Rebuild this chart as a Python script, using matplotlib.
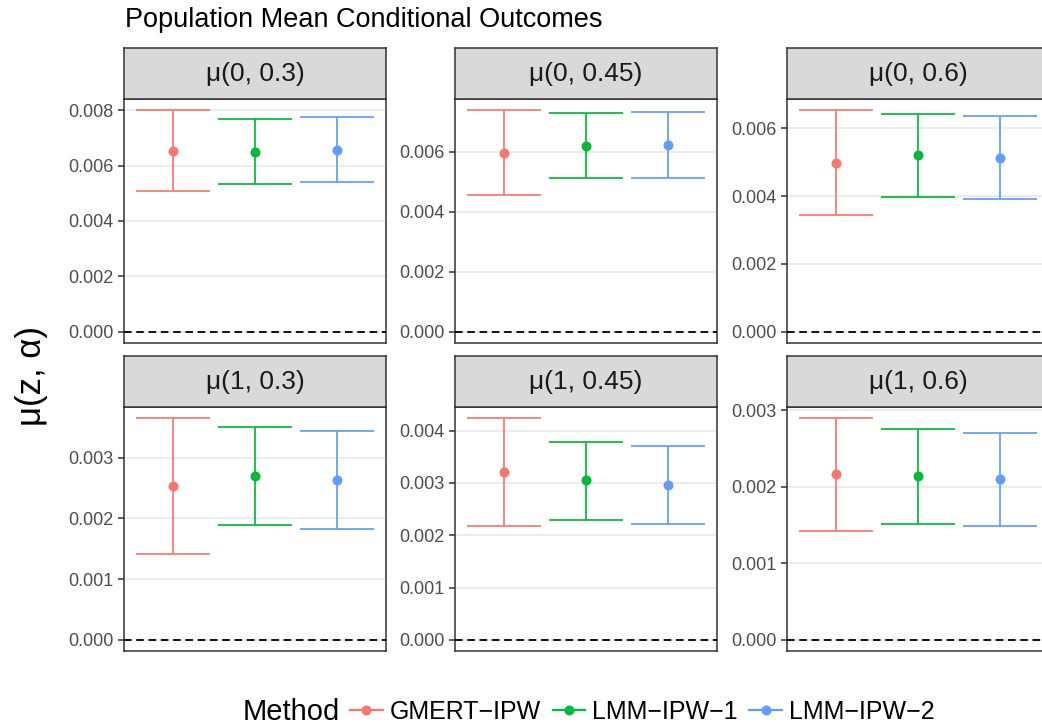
import matplotlib
matplotlib.use("Agg")
import matplotlib.pyplot as plt
from matplotlib.lines import Line2D
from matplotlib.ticker import MaxNLocator, FormatStrFormatter

plt.rcParams['font.family'] = ['Liberation Sans', 'DejaVu Sans']

# facets, in reading order
panel_labels = ['μ(0, 0.3)', 'μ(0, 0.45)', 'μ(0, 0.6)',
                'μ(1, 0.3)', 'μ(1, 0.45)', 'μ(1, 0.6)']
methods = ['GMERT\u2212IPW', 'LMM\u2212IPW\u22121', 'LMM\u2212IPW\u22122']
colors = ['#F8766D', '#00BA38', '#619CFF']

# point estimates and interval ends, one value per facet
gmert_est = [0.00653, 0.00596, 0.00497, 0.00253, 0.00320, 0.00217]
gmert_lo = [0.00509, 0.00455, 0.00344, 0.00142, 0.00217, 0.00143]
gmert_hi = [0.00800, 0.00738, 0.00653, 0.00365, 0.00424, 0.00290]

lmm1_est = [0.00650, 0.00620, 0.00520, 0.00269, 0.00305, 0.00214]
lmm1_lo = [0.00535, 0.00512, 0.00398, 0.00189, 0.00230, 0.00152]
lmm1_hi = [0.00768, 0.00729, 0.00641, 0.00350, 0.00379, 0.00276]

lmm2_est = [0.00656, 0.00621, 0.00513, 0.00263, 0.00296, 0.00210]
lmm2_lo = [0.00539, 0.00512, 0.00390, 0.00183, 0.00222, 0.00149]
lmm2_hi = [0.00774, 0.00733, 0.00635, 0.00344, 0.00370, 0.00271]

est = [gmert_est, lmm1_est, lmm2_est]
lo = [gmert_lo, lmm1_lo, lmm2_lo]
hi = [gmert_hi, lmm1_hi, lmm2_hi]

W, H = 1042, 728
fig = plt.figure(figsize=(W / 100, H / 100), dpi=100)


def box(l, t, r, b):
    return [l / W, 1 - b / H, (r - l) / W, (b - t) / H]


col_x = [(124, 386), (455, 717), (787, 1049)]
row_y = [(48, 99, 343), (356, 407, 651)]
border = '#333333'

for k, label in enumerate(panel_labels):
    r, c = divmod(k, 3)
    l, rr = col_x[c]
    st, sb, pb = row_y[r]

    ax = fig.add_axes(box(l, sb, rr, pb))
    for m in range(3):
        x = m + 1
        ax.vlines(x, lo[m][k], hi[m][k], color=colors[m], lw=1.25)
        ax.hlines([lo[m][k], hi[m][k]], x - 0.45, x + 0.45, color=colors[m], lw=1.25)
        ax.plot(x, est[m][k], 'o', color=colors[m], ms=7.2, mec='none')
    ax.axhline(0, color='black', lw=1.3, dashes=[4.2, 2.6], zorder=3)

    ymin = min(0, min(lo[m][k] for m in range(3)))
    ymax = max(hi[m][k] for m in range(3))
    pad = 0.05 * (ymax - ymin)
    ax.set_ylim(ymin - pad, ymax + pad)
    ax.set_xlim(0.4, 3.6)
    ax.yaxis.set_major_locator(MaxNLocator(nbins=5, steps=[1, 2, 5, 10]))
    ax.yaxis.set_major_formatter(FormatStrFormatter('%.3f'))
    ax.set_xticks([])
    ax.grid(axis='y', color='#EBEBEB', lw=1.3)
    ax.set_axisbelow(True)
    ax.tick_params(axis='y', length=4.3, width=1.1, color=border,
                   labelcolor='#4D4D4D', labelsize=13, pad=3.5)
    for s in ax.spines.values():
        s.set_color(border)
        s.set_linewidth(1.1)

    sax = fig.add_axes(box(l, st, rr, sb))
    sax.set_facecolor('#D9D9D9')
    sax.set_xticks([])
    sax.set_yticks([])
    for s in sax.spines.values():
        s.set_color(border)
        s.set_linewidth(1.1)
    sax.text(0.5, 0.5, label, ha='center', va='center', fontsize=19,
             color='#1A1A1A', transform=sax.transAxes)

fig.text(125 / W, 1 - 27 / H, 'Population Mean Conditional Outcomes',
         fontsize=19.5, va='baseline', ha='left')
fig.text(32 / W, 1 - 376 / H, 'μ(z, α)', rotation=90, fontsize=25,
         va='center', ha='center')

fig.text(243 / W, 1 - 712 / H, 'Method', fontsize=21, va='center', ha='left')
handles = [Line2D([0], [0], color=colors[m], lw=1.6, marker='o', ms=7.2,
                  mec='none') for m in range(3)]
fig.legend(handles, methods, loc='center left', ncol=3, frameon=False,
           bbox_to_anchor=(350 / W, 1 - 712 / H), fontsize=18,
           handlelength=1.3, handletextpad=0.3, columnspacing=0.45,
           borderaxespad=0, borderpad=0)

fig.savefig('out.png', dpi=100)
